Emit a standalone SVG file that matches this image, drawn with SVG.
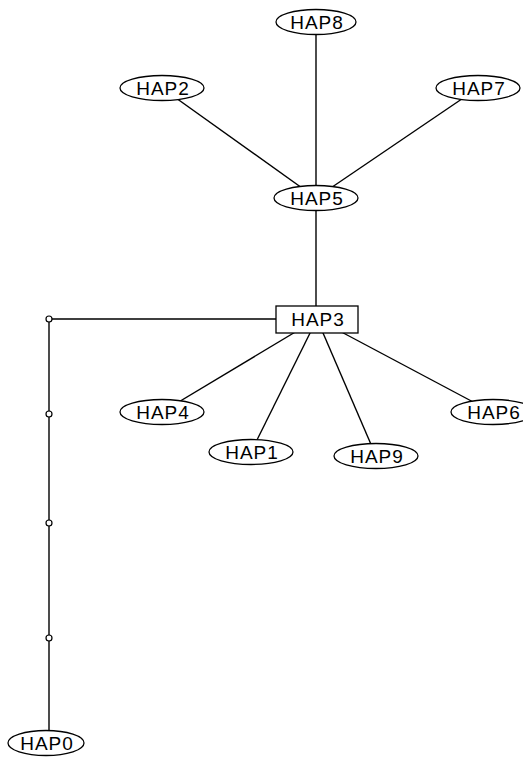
<svg xmlns="http://www.w3.org/2000/svg" width="523" height="757" viewBox="0 0 523 757">
<style>
.e{fill:#fff;stroke:#000;stroke-width:1.3}
.c{stroke:#000;stroke-width:1.4;fill:none}
.d{fill:#fff;stroke:#000;stroke-width:1.2}
text{font-family:"Liberation Sans",Arial,sans-serif;font-size:19px;letter-spacing:1px;text-anchor:middle;fill:#000}
</style>
<rect width="523" height="757" fill="#fff"/>
<g id="connectors">
<line class="c" x1="316" y1="22" x2="316" y2="198"/>
<line class="c" x1="162" y1="88" x2="316" y2="198"/>
<line class="c" x1="478" y1="88" x2="316" y2="198"/>
<line class="c" x1="316" y1="198" x2="316" y2="319"/>
<line class="c" x1="317" y1="319" x2="162" y2="412"/>
<line class="c" x1="317" y1="319" x2="251" y2="452"/>
<line class="c" x1="317" y1="319" x2="376" y2="456"/>
<line class="c" x1="317" y1="319" x2="492" y2="412"/>
<polyline class="c" points="317,319 49,319 49,742"/>
</g>
<g id="junctions">
<circle class="d" cx="49" cy="319" r="3"/>
<circle class="d" cx="49" cy="414" r="3"/>
<circle class="d" cx="49" cy="523" r="3"/>
<circle class="d" cx="49" cy="638" r="3"/>
</g>
<g id="HAP8"><ellipse class="e" cx="316" cy="22" rx="40" ry="12.5"/><text x="317" y="29">HAP8</text></g>
<g id="HAP2"><ellipse class="e" cx="162" cy="88" rx="42" ry="12.5"/><text x="163" y="95">HAP2</text></g>
<g id="HAP7"><ellipse class="e" cx="478" cy="88" rx="42" ry="12.5"/><text x="479" y="95">HAP7</text></g>
<g id="HAP5"><ellipse class="e" cx="316" cy="198" rx="42" ry="12.5"/><text x="317" y="205">HAP5</text></g>
<g id="HAP3"><rect class="e" x="276" y="306" width="82" height="27"/><text x="318" y="326">HAP3</text></g>
<g id="HAP4"><ellipse class="e" cx="162" cy="412" rx="42" ry="12.5"/><text x="163" y="419">HAP4</text></g>
<g id="HAP1"><ellipse class="e" cx="251" cy="452" rx="42" ry="12.5"/><text x="252" y="459">HAP1</text></g>
<g id="HAP9"><ellipse class="e" cx="376" cy="456" rx="42" ry="12.5"/><text x="377" y="463">HAP9</text></g>
<g id="HAP6"><ellipse class="e" cx="493" cy="412" rx="42" ry="12.5"/><text x="494" y="419">HAP6</text></g>
<g id="HAP0"><ellipse class="e" cx="46" cy="743" rx="38" ry="12.5"/><text x="47" y="750">HAP0</text></g>
</svg>
